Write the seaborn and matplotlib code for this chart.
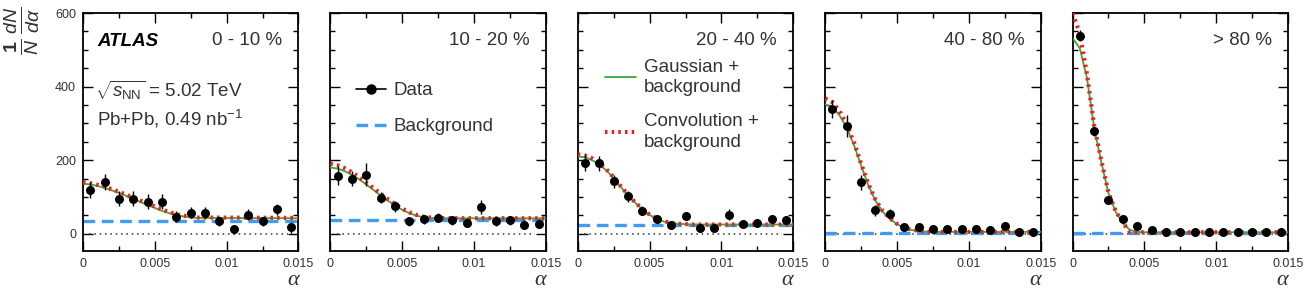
import numpy as np
import matplotlib
matplotlib.use("Agg")
import matplotlib.pyplot as plt
from matplotlib.lines import Line2D
from matplotlib.ticker import MultipleLocator
import seaborn as sns

# --- data ---
centrality = ["0 - 10 %", "10 - 20 %", "20 - 40 %", "40 - 80 %", "> 80 %"]

alpha_bins = [0.0005, 0.0015, 0.0025, 0.0035, 0.0045, 0.0055, 0.0065, 0.0075,
              0.0085, 0.0095, 0.0105, 0.0115, 0.0125, 0.0135, 0.0145]

data_0_10 = [118, 141, 95, 95, 87, 87, 46, 57, 57, 34, 12, 51, 34, 66, 18]
data_10_20 = [158, 150, 161, 98, 75, 34, 39, 43, 36, 30, 73, 34, 37, 24, 27]
data_20_40 = [193, 191, 143, 102, 63, 39, 24, 48, 16, 16, 52, 27, 30, 39, 37]
data_40_80 = [340, 292, 140, 64, 54, 18, 18, 14, 12, 12, 14, 10, 21, 5, 5]
data_80_100 = [538, 279, 93, 39, 21, 9, 6, 5, 4, 5, 5, 4, 4, 5, 4]

err_0_10 = [22, 22, 20, 20, 20, 20, 15, 15, 15, 12, 12, 15, 12, 15, 15]
err_10_20 = [25, 20, 30, 15, 15, 12, 12, 12, 12, 12, 20, 12, 12, 12, 12]
err_20_40 = [22, 20, 18, 15, 12, 10, 10, 10, 10, 10, 15, 10, 10, 10, 10]
err_40_80 = [25, 30, 20, 15, 12, 8, 8, 6, 6, 6, 6, 6, 6, 5, 5]
err_80_100 = [15, 12, 10, 8, 6, 5, 4, 4, 4, 4, 4, 4, 4, 4, 4]

background = [34, 37, 23, 3, 3]

curve_alpha = [0, 0.0005, 0.001, 0.0015, 0.002, 0.0025, 0.003, 0.0035, 0.004,
               0.0045, 0.005, 0.0055, 0.006, 0.0065, 0.007, 0.0075, 0.008, 0.015]

gauss_0_10 = [136, 134, 130, 125, 118, 111, 103, 95, 86, 78, 70, 62, 56, 51, 47, 44, 43, 42]
gauss_10_20 = [180, 177, 170, 160, 148, 134, 119, 104, 90, 77, 65, 56, 49, 45, 43, 42, 42, 42]
gauss_20_40 = [210, 208, 200, 188, 172, 150, 127, 104, 84, 66, 51, 40, 33, 29, 27, 26, 25, 25]
gauss_40_80 = [352, 344, 322, 288, 242, 186, 132, 90, 60, 40, 26, 16, 10, 7, 6, 5, 5, 5]
gauss_80_100 = [532, 505, 425, 290, 195, 110, 60, 28, 10, 5, 4, 4, 4, 4, 4, 4, 4, 4]

conv_0_10 = [140, 137, 133, 128, 121, 114, 106, 98, 90, 82, 74, 66, 59, 53, 49, 46, 44, 43]
conv_10_20 = [190, 186, 178, 167, 154, 139, 124, 109, 94, 80, 68, 58, 51, 46, 44, 43, 42, 42]
conv_20_40 = [216, 213, 205, 192, 175, 153, 129, 106, 85, 67, 52, 41, 34, 29, 27, 26, 25, 25]
conv_40_80 = [368, 358, 334, 297, 249, 191, 136, 93, 62, 42, 27, 17, 11, 8, 6, 5, 5, 5]
conv_80_100 = [600, 545, 435, 295, 200, 112, 62, 30, 4, 4, 4, 4, 4, 4, 4, 4, 4, 4]

data_sets = [data_0_10, data_10_20, data_20_40, data_40_80, data_80_100]
err_sets = [err_0_10, err_10_20, err_20_40, err_40_80, err_80_100]
gauss_sets = [gauss_0_10, gauss_10_20, gauss_20_40, gauss_40_80, gauss_80_100]
conv_sets = [conv_0_10, conv_10_20, conv_20_40, conv_40_80, conv_80_100]

GREEN = "#3aa83a"
RED = "#f01e1e"
BLUE = "#3f9cf0"
TXT = "#333333"
FS = 13.5

sns.set_style("ticks")
plt.rcParams["font.family"] = ["Liberation Sans", "DejaVu Sans"]
plt.rcParams["mathtext.fontset"] = "custom"
plt.rcParams["mathtext.rm"] = "Liberation Sans"
plt.rcParams["mathtext.it"] = "Liberation Sans:italic"
plt.rcParams["mathtext.bf"] = "Liberation Sans:bold"

fig, axes = plt.subplots(1, 5, figsize=(13.05, 2.91), dpi=100, sharey=True)
fig.subplots_adjust(left=0.0636, right=0.987, bottom=0.1375, top=0.955, wspace=0.148)

for i, ax in enumerate(axes):
    ax.axhline(0, xmin=0.03, xmax=0.95, color=TXT, ls=(0, (1, 2.5)), lw=1.1, zorder=1)
    ax.axhline(background[i], color=BLUE, ls=(0, (3.5, 2)), lw=2.4, zorder=2)
    sns.lineplot(x=curve_alpha, y=gauss_sets[i], ax=ax, color=GREEN, lw=1.3, zorder=3)
    sns.lineplot(x=curve_alpha, y=conv_sets[i], ax=ax, color=RED, lw=3.0,
                 ls=(0, (0.6, 1.0)), zorder=4)
    ax.errorbar(alpha_bins, data_sets[i], yerr=err_sets[i], fmt="none",
                ecolor="black", elinewidth=1.0, zorder=5)
    sns.scatterplot(x=alpha_bins, y=data_sets[i], ax=ax, color="black", s=42,
                    edgecolor="black", linewidth=0, zorder=6)

    ax.set_xlim(0, 0.015)
    ax.set_ylim(-47, 600)
    ax.xaxis.set_major_locator(MultipleLocator(0.005))
    ax.xaxis.set_minor_locator(MultipleLocator(0.0025))
    ax.yaxis.set_major_locator(MultipleLocator(200))
    ax.yaxis.set_minor_locator(MultipleLocator(50))
    ax.set_xticks([0, 0.005, 0.01, 0.015])
    ax.set_xticklabels(["0", "0.005", "0.01", "0.015"])
    ax.tick_params(which="both", direction="in", top=True, right=True,
                   labelsize=9, colors="black", labelcolor=TXT, width=1)
    ax.tick_params(which="major", length=7, pad=5)
    ax.tick_params(which="minor", length=3.5)
    for sp in ax.spines.values():
        sp.set_linewidth(1.3)
        sp.set_color("black")
    ax.set_xlabel("")
    ax.set_ylabel("")
    ax.text(1.0, -0.085, "α", transform=ax.transAxes, ha="right", va="top",
            fontsize=16, family="Liberation Serif", style="italic", color=TXT)
    ax.text(0.925, 0.885, centrality[i], transform=ax.transAxes, ha="right",
            va="center", fontsize=FS, color=TXT)

axes[0].set_yticks([0, 200, 400, 600])

a0 = axes[0]
a0.text(0.065, 0.88, "ATLAS", transform=a0.transAxes, ha="left", va="center",
        fontsize=FS, fontweight="bold", style="italic", color="black")
a0.text(0.055, 0.676, r"$\sqrt{s_{\mathrm{NN}}}$ = 5.02 TeV", transform=a0.transAxes,
        ha="left", va="center", fontsize=FS, color=TXT)
a0.text(0.065, 0.555, r"Pb+Pb, 0.49 nb$^{\mathrm{-1}}$", transform=a0.transAxes,
        ha="left", va="center", fontsize=FS, color=TXT)

fig.text(0.001, 0.978, r"$\frac{\mathbf{1}}{N}\,\frac{dN}{d\alpha}$", rotation=90,
         ha="left", va="top", fontsize=20, color=TXT)

h_data = Line2D([], [], color="black", marker="o", markersize=6.5, lw=1.2)
h_bkg = Line2D([], [], color=BLUE, ls=(0, (3.5, 2)), lw=2.4)
leg1 = axes[1].legend([h_data, h_bkg], ["Data", "Background"], loc="upper left",
                      bbox_to_anchor=(0.04, 0.78), frameon=False, fontsize=FS,
                      handlelength=1.6, labelspacing=1.0, handletextpad=0.4)
for t in leg1.get_texts():
    t.set_color(TXT)

h_gauss = Line2D([], [], color=GREEN, lw=1.3)
h_conv = Line2D([], [], color=RED, ls=(0, (0.6, 1.0)), lw=3.0)
leg2 = axes[2].legend([h_gauss, h_conv], ["Gaussian +\nbackground", "Convolution +\nbackground"],
                      loc="upper left", bbox_to_anchor=(0.05, 0.88), frameon=False,
                      fontsize=FS, handlelength=1.65, labelspacing=0.9,
                      handletextpad=0.4)
for t in leg2.get_texts():
    t.set_color(TXT)
    t.set_linespacing(1.3)

fig.savefig("out.png", dpi=100)
